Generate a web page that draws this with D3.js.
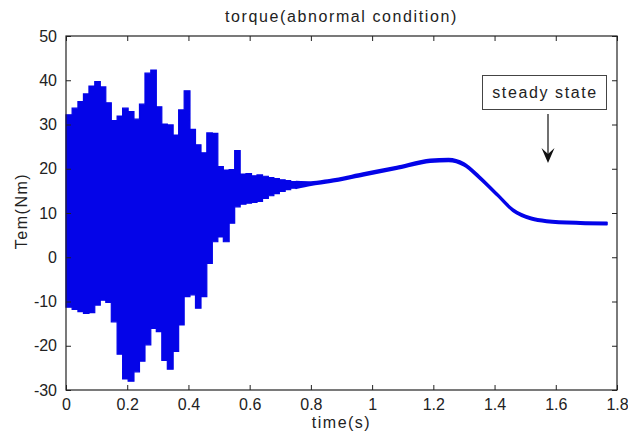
<!DOCTYPE html>
<html>
  <head>
    <meta charset="utf-8">
    <title></title>
  </head>
  <style>
  body{
      margin: 0;
      background: #fff;
      font-family: "Liberation Sans", Arial, sans-serif;
    }
  </style>
  <script src="https://d3js.org/d3.v7.min.js"></script>
  <body>
    <script>
    // oscillating start: block start times, upper and lower envelope
    var oscTime  = [0.000, 0.020, 0.039, 0.057, 0.075, 0.094, 0.112, 0.130, 0.148, 0.167,
                    0.185, 0.203, 0.222, 0.240, 0.258, 0.277, 0.295, 0.313, 0.331, 0.350,
                    0.368, 0.386, 0.405, 0.423, 0.441, 0.460, 0.478, 0.496, 0.514, 0.533,
                    0.551, 0.569, 0.588, 0.606, 0.624, 0.642, 0.661, 0.679, 0.697, 0.716,
                    0.734, 0.752]
    var oscUpper = [32.2, 33.7, 35.2, 36.9, 38.7, 39.7, 38.5, 34.9, 30.9, 31.9,
                    33.7, 32.9, 31.2, 34.6, 41.6, 42.3, 34.0, 30.1, 29.9, 27.6,
                    33.3, 37.6, 28.9, 25.4, 23.6, 28.1, 28.0, 20.5, 19.7, 19.8,
                    24.1, 18.8, 18.9, 18.4, 18.6, 18.3, 18.0, 17.8, 17.5, 17.3,
                    17.1, 17.1]
    var oscLower = [-11.3, -11.8, -12.3, -12.7, -12.5, -10.8, -9.7, -10.2, -14.6, -21.9,
                    -27.5, -28.0, -25.9, -23.5, -19.8, -16.1, -16.8, -23.3, -25.3, -21.3,
                    -15.3, -8.9, -8.5, -11.5, -8.9, -1.4, 3.5, 4.6, 3.5, 7.7,
                    11.4, 12.0, 12.2, 12.4, 12.6, 13.3, 13.9, 14.4, 14.9, 15.3,
                    15.6, 15.6]

    // settling part
    var smTime  = [0.752, 0.80, 0.86, 0.97, 1.08, 1.19, 1.25, 1.30, 1.35, 1.41, 1.46, 1.52, 1.57, 1.68, 1.767]
    var smUpper = [17.1, 17.0, 17.5, 19.0, 20.5, 22.1, 22.3, 21.3, 18.4, 14.3, 10.9, 9.0, 8.4, 8.0, 7.9]
    var smLower = [15.6, 16.3, 16.9, 18.4, 19.9, 21.5, 21.7, 20.7, 17.8, 13.8, 10.4, 8.5, 7.9, 7.5, 7.4]

    var xTicks = [0, 0.2, 0.4, 0.6, 0.8, 1, 1.2, 1.4, 1.6, 1.8]
    var yTicks = [-30, -20, -10, 0, 10, 20, 30, 40, 50]

    var padding = { left: 66, top: 36, right: 11, bottom: 46 }
    var initWidth = 628
    var initHeight = 436
    var width  = initWidth - padding.left - padding.right
    var height = initHeight - padding.top - padding.bottom
    var blue = "#0404e8"

    var svg = d3.select("body")
                .append("svg")
                .attr("width", initWidth)
                .attr("height", initHeight)

    var g = svg.append("g")
               .attr("transform", "translate(" + padding.left + "," + padding.top + ")")

    var xScale = d3.scaleLinear().domain([0, 1.8]).range([0, width])
    var yScale = d3.scaleLinear().domain([-30, 50]).range([height, 0])

    // signal
    var osc = oscTime.map(function(t, i){ return { t: t, hi: oscUpper[i], lo: oscLower[i] } })
    var sm  = smTime.map(function(t, i){ return { t: t, hi: smUpper[i], lo: smLower[i] } })

    var stepArea = d3.area()
                     .curve(d3.curveStepAfter)
                     .x(function(d){ return xScale(d.t) })
                     .y0(function(d){ return yScale(d.lo) })
                     .y1(function(d){ return yScale(d.hi) })

    var smoothArea = d3.area()
                       .curve(d3.curveMonotoneX)
                       .x(function(d){ return xScale(d.t) })
                       .y0(function(d){ return yScale(d.lo) })
                       .y1(function(d){ return yScale(d.hi) })

    g.append("path")
     .attr("d", stepArea(osc))
     .attr("fill", blue)
     .attr("stroke", blue)
     .attr("stroke-width", 1.2)

    g.append("path")
     .attr("d", smoothArea(sm))
     .attr("fill", blue)
     .attr("stroke", blue)
     .attr("stroke-width", 1.8)
     .attr("stroke-linejoin", "round")

    // axes (box with inward ticks, like matlab)
    var fmt = function(d){ return String(d) }
    var axFont = function(sel){
      sel.selectAll("text").attr("font-size", "16px").attr("fill", "#222")
         .attr("font-family", "'Liberation Sans', Arial, sans-serif")
      sel.selectAll("line").attr("stroke", "#222")
      sel.select(".domain").remove()
    }

    g.append("g")
     .attr("transform", "translate(0," + height + ")")
     .call(d3.axisBottom(xScale).tickValues(xTicks).tickFormat(fmt).tickSizeInner(-5).tickSizeOuter(0).tickPadding(9))
     .call(axFont)

    g.append("g")
     .call(d3.axisLeft(yScale).tickValues(yTicks).tickFormat(fmt).tickSizeInner(-5).tickSizeOuter(0).tickPadding(9))
     .call(axFont)

    g.append("g")
     .call(d3.axisTop(xScale).tickValues(xTicks).tickFormat("").tickSizeInner(-5).tickSizeOuter(0))
     .call(axFont)

    g.append("g")
     .attr("transform", "translate(" + width + ",0)")
     .call(d3.axisRight(yScale).tickValues(yTicks).tickFormat("").tickSizeInner(-5).tickSizeOuter(0))
     .call(axFont)

    g.append("rect")
     .attr("x", 0).attr("y", 0)
     .attr("width", width).attr("height", height)
     .attr("fill", "none")
     .attr("stroke", "#222")
     .attr("stroke-width", 1.2)

    // labels
    svg.append("text")
       .attr("x", padding.left + width / 2)
       .attr("y", 22)
       .attr("text-anchor", "middle")
       .attr("font-size", "16px")
       .attr("letter-spacing", "1.6px")
       .attr("fill", "#222")
       .text("torque(abnormal condition)")

    svg.append("text")
       .attr("x", padding.left + width / 2)
       .attr("y", 428)
       .attr("text-anchor", "middle")
       .attr("font-size", "16px")
       .attr("letter-spacing", "1.5px")
       .attr("fill", "#222")
       .text("time(s)")

    svg.append("text")
       .attr("transform", "translate(26.5," + (padding.top + height / 2 - 2) + ") rotate(-90)")
       .attr("text-anchor", "middle")
       .attr("font-size", "16px")
       .attr("letter-spacing", "1.5px")
       .attr("fill", "#222")
       .text("Tem(Nm)")

    // annotation
    var note = svg.append("g")
    note.append("rect")
        .attr("x", 482.5).attr("y", 75.5)
        .attr("width", 124).attr("height", 34)
        .attr("fill", "#fff")
        .attr("stroke", "#444")
        .attr("stroke-width", 1)
    note.append("text")
        .attr("x", 545)
        .attr("y", 98)
        .attr("text-anchor", "middle")
        .attr("font-size", "16px")
        .attr("letter-spacing", "1.6px")
        .attr("fill", "#222")
        .text("steady state")
    note.append("line")
        .attr("x1", 548).attr("y1", 114)
        .attr("x2", 548).attr("y2", 156)
        .attr("stroke", "#111")
        .attr("stroke-width", 1.2)
    note.append("path")
        .attr("d", "M548,163 L541.5,148 L548,154 L554.5,148 Z")
        .attr("fill", "#111")
    </script>
  </body>
</html>
